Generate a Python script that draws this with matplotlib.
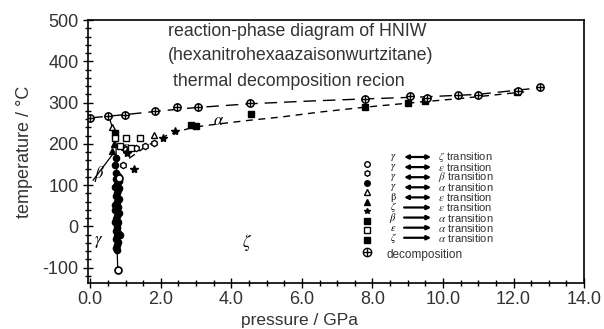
import matplotlib
matplotlib.use('Agg')
import matplotlib.pyplot as plt
from matplotlib.ticker import MultipleLocator, FormatStrFormatter

plt.rcParams['font.family'] = ['Liberation Sans', 'DejaVu Sans']
plt.rcParams['mathtext.fontset'] = 'stix'
plt.rcParams['axes.unicode_minus'] = False

# --- data (pressure GPa, temperature C) ---
decomp_p = [0.0, 0.51, 0.99, 1.84, 2.47, 3.06, 4.53, 7.79, 9.07, 9.55, 10.43, 11.0, 12.13, 12.75]
decomp_T = [263, 268, 270, 280, 289, 289, 299, 309, 316, 311, 318, 318, 328, 338]

# the near-vertical column at ~0.75 GPa
gb_p = [0.74, 0.78, 0.72, 0.80, 0.76, 0.70, 0.79, 0.75, 0.73, 0.81, 0.77, 0.71, 0.78,
        0.74, 0.80, 0.76, 0.72, 0.79, 0.75, 0.77, 0.73, 0.78, 0.76, 0.74, 0.79, 0.75,
        0.72, 0.77, 0.70, 0.74, 0.82, 0.69, 0.83, 0.71]
gb_T = [130, 123, 116, 109, 102, 95, 88, 81, 74, 67, 60, 53, 46, 39, 32, 25, 18, 11,
        4, -3, -10, -17, -24, -31, -38, -45, -52, -57, 150, 165, 92, 40, -20, 10]
gz_p = [0.78, 0.80]
gz_T = [-105, 118]
ge_p = [0.95, 1.30, 1.55, 1.80, 0.92]
ge_T = [190, 191, 196, 203, 148]
ga_p = [0.62, 1.80]
ga_T = [240, 222]
be_p = [0.62, 0.68]
be_T = [182, 200]
ze_p = [1.05, 1.25, 2.40, 2.05]
ze_T = [178, 140, 231, 214]
ba_p = [0.70, 2.85, 3.00]
ba_T = [226, 246, 243]
ea_p = [0.70, 1.00, 1.40, 1.15, 0.85]
ea_T = [214, 215, 214, 190, 195]
za_p = [4.55, 7.80, 9.00, 9.50, 12.10]
za_T = [272, 289, 300, 304, 325]

# boundary lines
dline_p = [0.0, 1.0, 2.0, 3.0, 4.5, 6.0, 7.8, 9.5, 11.0, 12.75]
dline_T = [263, 271, 280, 288, 297, 303, 309, 314, 320, 336]
aline_p = [1.1, 1.6, 2.2, 2.9, 3.6, 4.5, 5.4, 6.5, 7.8, 9.3, 10.5, 12.3]
aline_T = [165, 195, 222, 240, 248, 257, 265, 277, 289, 301, 310, 326]
col_line_p = [0.52, 0.72, 0.75, 0.76, 0.78]
col_line_T = [268, 215, 130, -57, -105]
beta_line_p = [0.08, 0.68]
beta_line_T = [112, 180]

phase_labels = [r'$\alpha$', r'$\varepsilon$', r'$\beta$', r'$\gamma$', r'$\zeta$']
phase_p = [3.63, 0.99, 0.26, 0.23, 4.45]
phase_T = [256, 192, 128, -37, -40]

legend_left = [r'$\gamma$', r'$\gamma$', r'$\gamma$', r'$\gamma$', r'$\mathrm{\beta}$',
               r'$\zeta$', r'$\beta$', r'$\varepsilon$', r'$\zeta$']
legend_right = [r'$\zeta$', r'$\varepsilon$', r'$\beta$', r'$\alpha$', r'$\varepsilon$',
                r'$\varepsilon$', r'$\alpha$', r'$\alpha$', r'$\alpha$']
legend_double = [True, True, True, True, True, False, False, False, False]

fig = plt.figure(figsize=(6.04, 3.29), dpi=100)
ax = fig.add_axes([0.146, 0.140, 0.821, 0.799])

k = dict(color='black', linestyle='none')
ax.plot(dline_p, dline_T, color='black', lw=1.0, dashes=(9, 5))
ax.plot(aline_p, aline_T, color='black', lw=1.0, dashes=(5, 4))
ax.plot(col_line_p, col_line_T, color='black', lw=0.9)
ax.plot(beta_line_p, beta_line_T, color='black', lw=0.9)

ax.plot(gb_p, gb_T, marker='o', ms=4.5, mfc='black', mec='black', **k)
ax.plot(gz_p, gz_T, marker='o', ms=5, mfc='white', mec='black', mew=1.2, **k)
ax.plot(ge_p, ge_T, marker='h', ms=4.5, mfc='white', mec='black', mew=1.0, **k)
ax.plot(ga_p, ga_T, marker='^', ms=4.5, mfc='white', mec='black', mew=1.0, **k)
ax.plot(be_p, be_T, marker='^', ms=4.5, mfc='black', **k)
ax.plot(ze_p, ze_T, marker='*', ms=6, mfc='black', **k)
ax.plot(ba_p, ba_T, marker='s', ms=5, mfc='black', **k)
ax.plot(ea_p, ea_T, marker='s', ms=4.5, mfc='white', mec='black', mew=1.0, **k)
ax.plot(za_p, za_T, marker='s', ms=4, mfc='black', **k)
ax.plot(decomp_p, decomp_T, marker='o', ms=5.2, mfc='white', mec='black', mew=1.1, **k)
ax.plot(decomp_p, decomp_T, marker='+', ms=5.2, mew=1.0, **k)

for lab, p, t in zip(phase_labels, phase_p, phase_T):
    ax.text(p, t, lab, fontsize=12, ha='center', va='center')

# title block inside the plot
title_lines = ['reaction-phase diagram of HNIW', '(hexanitrohexaazaisonwurtzitane)',
               'thermal decomposition recion']
title_x = [0.161, 0.161, 0.171]
title_y = [0.955, 0.865, 0.765]
for s, x, y in zip(title_lines, title_x, title_y):
    ax.text(x, y, s, transform=ax.transAxes, fontsize=12.8, color='#333333',
            ha='left', va='center')

# hand-built legend
for i in range(9):
    ym = (283 - (164 + i * 9.5)) / 263
    yt = (283 - (157 + i * 10.1)) / 263
    mk = [('o', 'white'), ('h', 'white'), ('o', 'black'), ('^', 'white'), ('^', 'black'),
          ('*', 'black'), ('s', 'black'), ('s', 'white'), ('s', 'black')][i]
    ax.plot([(367 - 88) / 496], [ym], marker=mk[0], ms=4, mfc=mk[1], mec='black',
            transform=ax.transAxes, clip_on=False, **k)
    ax.text((393 - 88) / 496, yt, legend_left[i], transform=ax.transAxes,
            fontsize=7.5, ha='center', va='center')
    ax.annotate('', xy=((431 - 88) / 496, yt), xytext=((404 - 88) / 496, yt),
                xycoords='axes fraction',
                arrowprops=dict(arrowstyle='<|-|>' if legend_double[i] else '-|>',
                                color='black', lw=1.6, mutation_scale=6,
                                shrinkA=0, shrinkB=0))
    ax.text((438 - 88) / 496, yt, legend_right[i] + ' transition', transform=ax.transAxes,
            fontsize=8, color='#333333', ha='left', va='center')

yd = (283 - 252) / 263
ax.plot([(367 - 88) / 496], [yd], marker='o', ms=6, mfc='white', mec='black',
        transform=ax.transAxes, clip_on=False, **k)
ax.plot([(367 - 88) / 496], [yd], marker='+', ms=6, transform=ax.transAxes,
        clip_on=False, **k)
ax.text((386 - 88) / 496, (283 - 255) / 263, 'decomposition', transform=ax.transAxes,
        fontsize=8.5, color='#333333', ha='left', va='center')

ax.set_xlim(-0.06, 14.0)
ax.set_ylim(-137, 500)
ax.xaxis.set_major_locator(MultipleLocator(2))
ax.xaxis.set_minor_locator(MultipleLocator(0.5))
ax.xaxis.set_major_formatter(FormatStrFormatter('%.1f'))
ax.yaxis.set_major_locator(MultipleLocator(100))
ax.yaxis.set_minor_locator(MultipleLocator(20))
ax.tick_params(which='both', direction='inout', labelsize=13, labelcolor='#333333',
               width=1.0)
ax.tick_params(which='major', length=7)
ax.tick_params(which='minor', length=4)
ax.tick_params(axis='x', pad=2)
for sp in ax.spines.values():
    sp.set_linewidth(1.2)

ax.set_xlabel('pressure / GPa', fontsize=12.5, color='#333333')
ax.set_ylabel('temperature / °C', fontsize=13, color='#333333')
ax.xaxis.set_label_coords(0.427, -0.115)
ax.yaxis.set_label_coords(-0.112, 0.5)

fig.savefig('out.png', dpi=100)
